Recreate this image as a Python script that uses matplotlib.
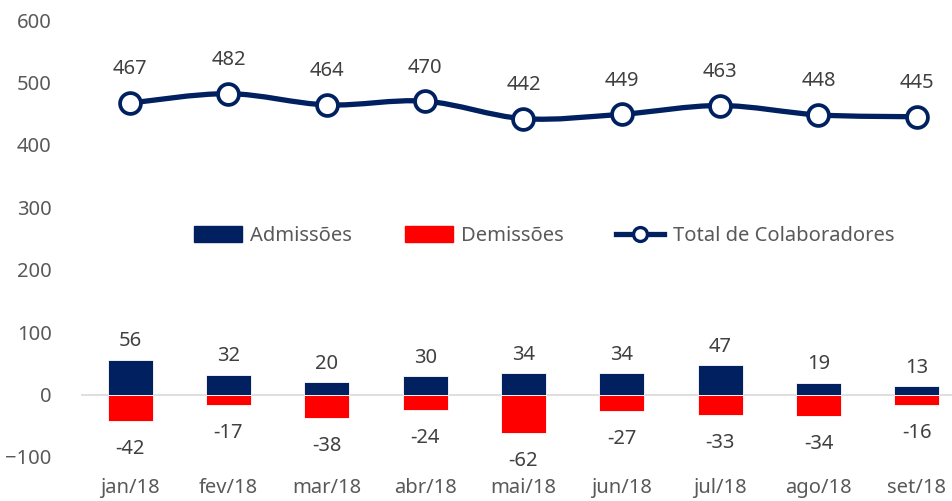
import numpy as np
import matplotlib.pyplot as plt
from matplotlib.path import Path
from matplotlib.patches import PathPatch
from matplotlib.lines import Line2D
from matplotlib.patches import Patch

plt.rcParams['font.family'] = ['Noto Sans', 'DejaVu Sans']

meses = ["jan/18", "fev/18", "mar/18", "abr/18", "mai/18", "jun/18", "jul/18", "ago/18", "set/18"]
admissoes = [56, 32, 20, 30, 34, 34, 47, 19, 13]
demissoes = [-42, -17, -38, -24, -62, -27, -33, -34, -16]
total = [467, 482, 464, 470, 442, 449, 463, 448, 445]

navy = "#002060"
red = "#FF0000"
gray = "#595959"


def smooth_path(xs, ys, t=1/6):
    # bezier through the points, like excel's smoothed line
    xs = np.asarray(xs, float)
    ys = np.asarray(ys, float)
    n = len(xs)
    verts = [(xs[0], ys[0])]
    codes = [Path.MOVETO]
    for i in range(n - 1):
        p0 = (xs[max(i - 1, 0)], ys[max(i - 1, 0)])
        p1 = (xs[i], ys[i])
        p2 = (xs[i + 1], ys[i + 1])
        p3 = (xs[min(i + 2, n - 1)], ys[min(i + 2, n - 1)])
        c1 = (p1[0] + (p2[0] - p0[0]) * t, p1[1] + (p2[1] - p0[1]) * t)
        c2 = (p2[0] - (p3[0] - p1[0]) * t, p2[1] - (p3[1] - p1[1]) * t)
        verts += [c1, c2, p2]
        codes += [Path.CURVE4] * 3
    return Path(verts, codes)


fig = plt.figure(figsize=(9.53, 5.01), dpi=100)
ax = fig.add_axes([81 / 953, 44 / 501, 885 / 953, 437 / 501])

x = np.arange(len(meses))
w = 0.46
ax.bar(x, admissoes, w, color=navy, edgecolor="white", linewidth=0.6, zorder=2)
ax.bar(x, demissoes, w, color=red, edgecolor="white", linewidth=0.6, zorder=2)
ax.axhline(0, color="#D9D9D9", lw=1.2, zorder=1)

ax.add_patch(PathPatch(smooth_path(x, total), facecolor="none", edgecolor=navy,
                       lw=3.8, capstyle="round", zorder=3))
ax.plot(x, total, ls="none", marker="o", ms=15, mfc="white", mec=navy, mew=2.7, zorder=4)

fs = 14.5
for xi, v in zip(x, total):
    ax.annotate(str(v), (xi, v), xytext=(0, 17), textcoords="offset points",
                ha="center", va="bottom", fontsize=fs, color="#404040")
for xi, v in zip(x, admissoes):
    ax.annotate(str(v), (xi, v), xytext=(0, 6), textcoords="offset points",
                ha="center", va="bottom", fontsize=fs, color="#404040")
for xi, v in zip(x, demissoes):
    ax.annotate(str(v), (xi, v), xytext=(0, -13), textcoords="offset points",
                ha="center", va="top", fontsize=fs, color="#404040")

ax.set_xlim(-0.5, len(meses) - 0.5)
ax.set_ylim(-100, 600)
ax.set_yticks(np.arange(-100, 601, 100))
ax.set_xticks(x)
ax.set_xticklabels(meses)
ax.tick_params(axis="both", length=0, labelsize=fs, colors=gray)
ax.tick_params(axis="y", pad=21)
ax.tick_params(axis="x", pad=15)
for s in ax.spines.values():
    s.set_visible(False)

handles = [Patch(color=navy, label="Admissões"),
           Patch(color=red, label="Demissões"),
           Line2D([], [], color=navy, lw=3.8, marker="o", ms=10, mfc="white", mec=navy,
                  mew=2.4, label="Total de Colaboradores")]
fig.legend(handles=handles, loc="center", bbox_to_anchor=(544 / 953, 1 - 236 / 501),
           ncol=3, frameon=False, fontsize=fs, labelcolor=gray, handlelength=2.4,
           handleheight=0.8, columnspacing=2.6, handletextpad=0.4)

fig.savefig("out.png", dpi=100)
